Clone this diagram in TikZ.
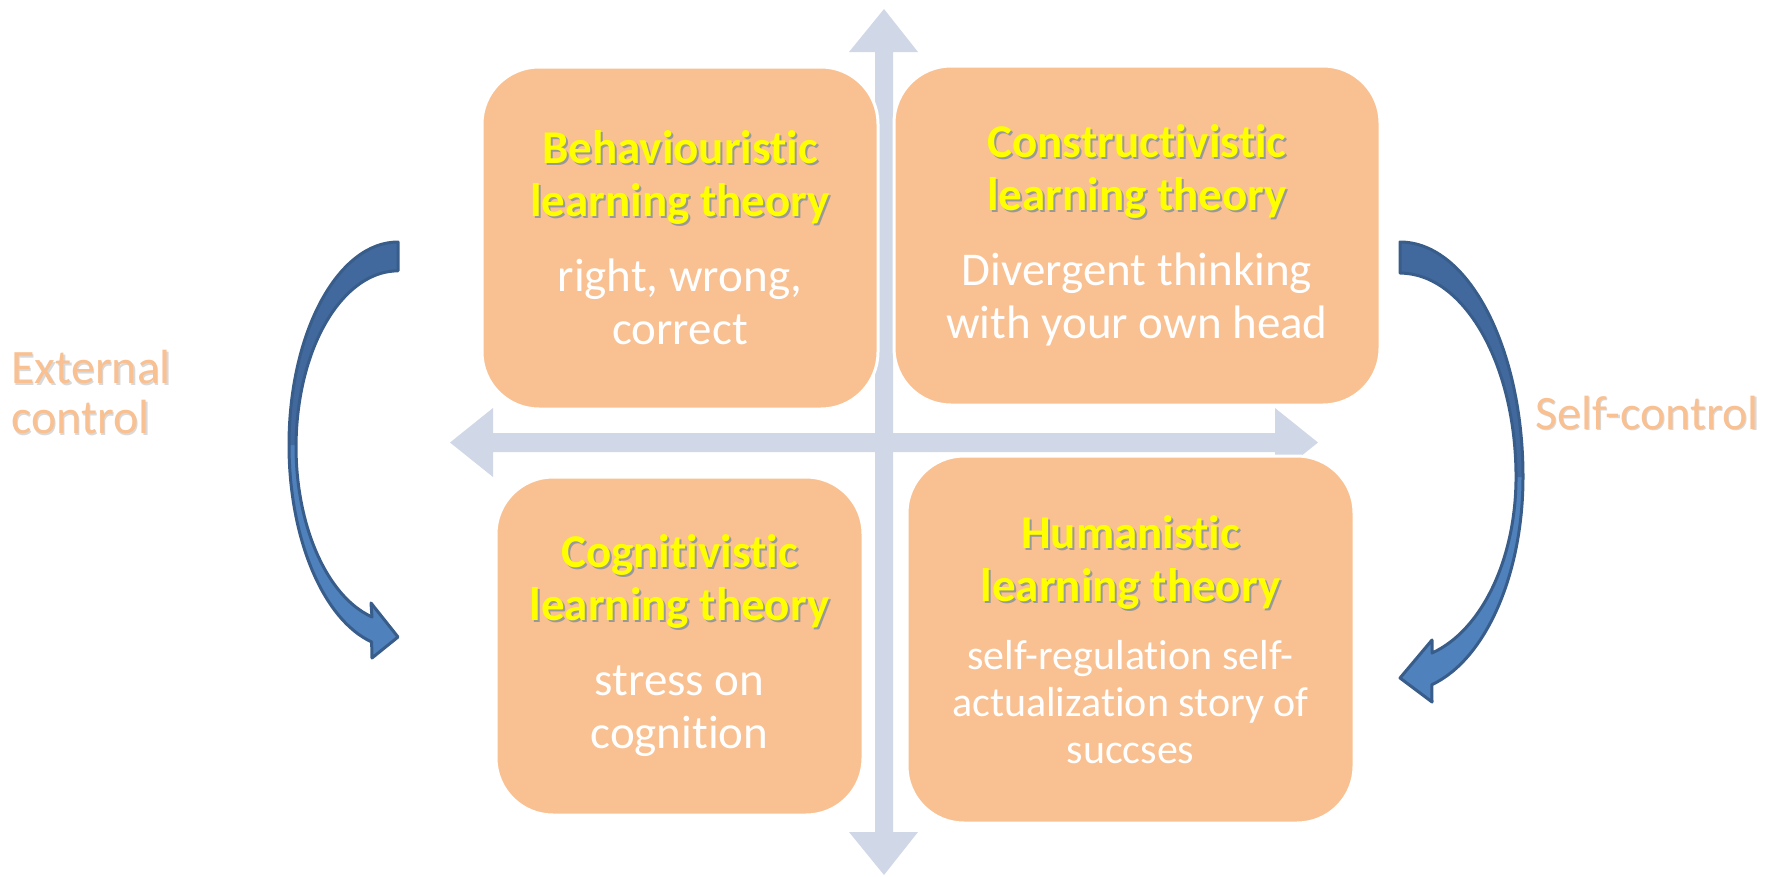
\documentclass[tikz,border=0pt]{standalone}
\usepackage{fontspec}
\setmainfont{Carlito}[RawFeature={-liga,-clig,-dlig}]
\definecolor{quadfill}{HTML}{F9C091}
\definecolor{axisgray}{HTML}{D0D8E8}
\definecolor{turndark}{HTML}{41699D}
\definecolor{turnlight}{HTML}{4F81BD}
\definecolor{turnedge}{HTML}{385D8A}
\definecolor{ttlyellow}{HTML}{FFFF00}
\newcommand{\ttl}[1]{{\bfseries\color{ttlyellow}\makebox[0pt][l]{\hspace{2pt}\raisebox{-2pt}{\color{black!40}#1}}#1}}
\newcommand{\sidetxt}[1]{\makebox[0pt][l]{\hspace{1.5pt}\raisebox{-1.5pt}{\color{black!15}#1}}#1}
\newcommand{\smallbody}[1]{{\fontsize{42}{47}\selectfont #1}}

\tikzset{
	quad/.style={draw=white, line width=3, fill=quadfill, rounded corners=57,
		text=white, align=center, font=\fontsize{47}{53}\selectfont},
	sidelbl/.style={text=quadfill, align=left, inner sep=0,
		font=\fontsize{48}{50}\selectfont},
	axis/.style={fill=axisgray},
	turnfill/.style={fill=turnlight},
	turnback/.style={fill=turndark},
	turnline/.style={draw=turnedge, line width=3, line join=round},
}

\begin{document}
\begin{tikzpicture}[x=1pt, y=-1pt]
		%%%%% START %%%%%
		\useasboundingbox (0, 0) rectangle (1781, 876);
		
		% axes
		\fill[axis] (875, 52) -- (849, 52) -- (884, 9) -- (918, 52) -- (893, 52)
			-- (893, 832) -- (918, 832) -- (884, 875) -- (849, 832) -- (875, 832) -- cycle;
		\fill[axis] (493, 433) -- (493, 408) -- (450, 442.5) -- (493, 477) -- (493, 452)
			-- (1275, 452) -- (1275, 477) -- (1318, 442.5) -- (1275, 408) -- (1275, 433) -- cycle;
		
		% quadrants
		\node[quad, minimum width=396, minimum height=342] (behav) at (680, 238)
			{\ttl{Behaviouristic}\\\ttl{learning theory}\\[22pt]right, wrong,\\correct};
		\node[quad, minimum width=486, minimum height=339] (constr) at (1137, 235.5)
			{\ttl{Constructivistic}\\\ttl{learning theory}\\[22pt]Divergent thinking\\with your own head};
		\node[quad, minimum width=367, minimum height=338] (cogn) at (679.5, 646)
			{\ttl{Cognitivistic}\\\ttl{learning theory}\\[22pt]stress on\\cognition};
		\node[quad, minimum width=447, minimum height=367] (human) at (1130.5, 639.5)
			{\ttl{Humanistic}\\\ttl{learning theory}\\[15pt]\smallbody{self-regulation self-}\\[-6pt]
			\smallbody{actualization story of}\\[-6pt]\smallbody{succses}};
		
		% left turn arrow
		\fill[turnfill] (398, 242) arc[start angle=270, end angle=104, x radius=109, y radius=203]
			-- (372, 658) -- (398, 637) -- (371, 603) -- (372, 617)
			arc[start angle=104.8, end angle=270, x radius=102, y radius=176] -- cycle;
		\fill[turnback] (398, 242) arc[start angle=270, end angle=180, x radius=109, y radius=203]
			-- (296, 445) arc[start angle=180, end angle=270, x radius=102, y radius=175] -- cycle;
		\draw[turnline] (398, 242) arc[start angle=270, end angle=104, x radius=109, y radius=203]
			-- (372, 658) -- (398, 637) -- (371, 603) -- (372, 617)
			arc[start angle=104.8, end angle=270, x radius=102, y radius=176] -- cycle;
		
		% right turn arrow
		\fill[turnfill] (1400, 242) arc[start angle=270, end angle=360, x radius=123, y radius=235]
			arc[start angle=0, end angle=75, x radius=123, y radius=215]
			-- (1432, 702) -- (1400, 678) -- (1432, 640) -- (1432, 653)
			arc[start angle=74, end angle=0, x radius=116, y radius=183]
			arc[start angle=0, end angle=-90, x radius=116, y radius=204] -- cycle;
		\fill[turnback] (1400, 242) arc[start angle=270, end angle=360, x radius=123, y radius=235]
			-- (1516, 477) arc[start angle=0, end angle=-90, x radius=116, y radius=204] -- cycle;
		\draw[turnline] (1400, 242) arc[start angle=270, end angle=360, x radius=123, y radius=235]
			arc[start angle=0, end angle=75, x radius=123, y radius=215]
			-- (1432, 702) -- (1400, 678) -- (1432, 640) -- (1432, 653)
			arc[start angle=74, end angle=0, x radius=116, y radius=183]
			arc[start angle=0, end angle=-90, x radius=116, y radius=204] -- cycle;
		
		% side labels
		\node[sidelbl, anchor=west] (extctl) at (11, 393) {\sidetxt{External}\\\sidetxt{control}};
		\node[sidelbl, anchor=base west] (selfctl) at (1535, 429) {\sidetxt{Self-control}};
		
		%%%%% END %%%%%
	\end{tikzpicture}
\end{document}
